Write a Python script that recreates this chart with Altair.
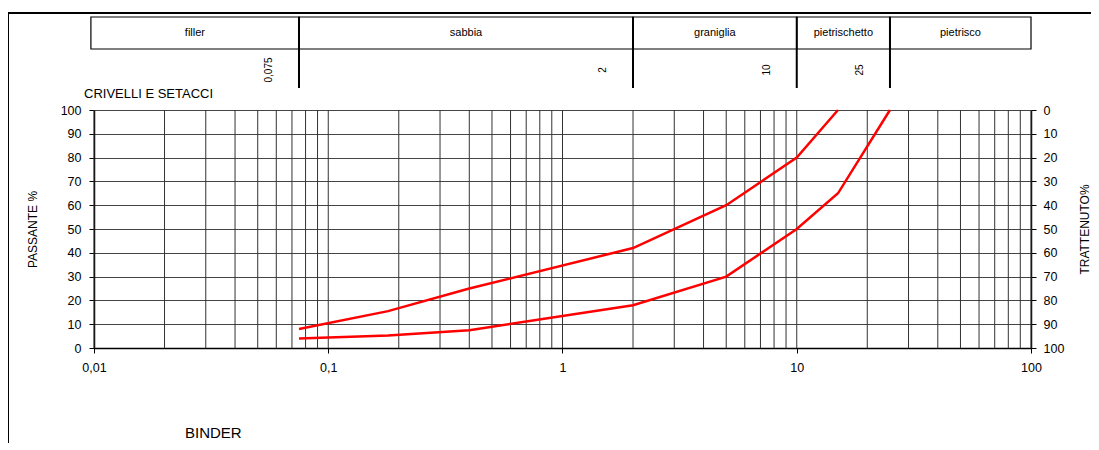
import altair as alt
import pandas as pd

# ---- data ----
size_upper = [0.075, 0.18, 0.4, 2, 5, 10, 15]
pass_upper = [8, 15.5, 25, 42, 60, 80, 100]
size_lower = [0.075, 0.18, 0.4, 2, 5, 10, 15, 25]
pass_lower = [4, 5.3, 7.5, 18, 30, 50, 65, 100]

fractions = ["filler", "sabbia", "graniglia", "pietrischetto", "pietrisco"]
frac_lo = [0.0097, 0.075, 2, 10, 25]
frac_hi = [0.075, 2, 10, 25, 100]
sieves = [0.075, 2, 10, 25]
sieve_labels = ["0,075", "2", "10", "25"]
x_ticks = [0.01, 0.1, 1, 10, 100]
y_ticks = [0, 10, 20, 30, 40, 50, 60, 70, 80, 90, 100]
grid_x = [m * d for d in [0.01, 0.1, 1, 10] for m in range(1, 10)] + [100]

FONT = "Liberation Sans"
W, H = 937, 238

curves = pd.concat([
    pd.DataFrame({"size": size_upper, "pass": pass_upper, "curve": "sup"}),
    pd.DataFrame({"size": size_lower, "pass": pass_lower, "curve": "inf"}),
])
header = pd.DataFrame({"name": fractions, "lo": frac_lo, "hi": frac_hi})
sv = pd.DataFrame({"s": sieves, "lab": sieve_labels})
one = pd.DataFrame({"a": [0.01]})

xs = alt.Scale(type="log", domain=[0.01, 100], nice=False)
ys = alt.Scale(domain=[0, 100], nice=False)

X_AXIS = alt.Axis(values=x_ticks, format="~g",
                  labelExpr="replace(datum.label, '.', ',')",
                  grid=False, tickSize=5, labelPadding=8, labelFlush=False,
                  title=None, domainWidth=1.5, labelFontSize=12.5)


def X(field):
    return alt.X(field, scale=xs, axis=X_AXIS, title=None)


vgrid = alt.Chart(pd.DataFrame({"g": grid_x})).mark_rule(
    color="#333", strokeWidth=1
).encode(x=X("g:Q"))

lines = alt.Chart(curves).mark_line(color="#ff0000", strokeWidth=2.5).encode(
    x=X("size:Q"),
    y=alt.Y("pass:Q", scale=ys,
            axis=alt.Axis(values=y_ticks, grid=True, gridColor="#444",
                          gridOpacity=1, tickSize=5, labelPadding=8,
                          title="PASSANTE %", titlePadding=21,
                          domainWidth=1.5, labelFontSize=12.5)),
    detail="curve:N",
)

right = alt.Chart(pd.DataFrame({"v": [0, 100]})).mark_point(opacity=0).encode(
    y=alt.Y("v:Q", scale=alt.Scale(domain=[0, 100], nice=False, reverse=True),
            axis=alt.Axis(orient="right", values=y_ticks, grid=False,
                          tickSize=5, labelPadding=7, title="TRATTENUTO%",
                          titleAngle=270, titlePadding=28, domainWidth=1.5,
                          labelFontSize=12.5)),
)

boxes = alt.Chart(header).mark_rect(fill="white", stroke="black", strokeWidth=1.2).encode(
    x=X("lo:Q"), x2="hi:Q",
    y=alt.value(-93), y2=alt.value(-61),
)
box_text = alt.Chart(header).transform_calculate(
    mid="sqrt(datum.lo*datum.hi)"
).mark_text(font=FONT, fontSize=11, baseline="middle", align="center").encode(
    x=X("mid:Q"), y=alt.value(-77), text="name:N"
)
dividers = alt.Chart(sv).mark_rule(color="black", strokeWidth=2).encode(
    x=X("s:Q"), y=alt.value(-93), y2=alt.value(-22)
)
sieve_text = alt.Chart(sv).mark_text(
    font=FONT, fontSize=10, angle=270, align="center", baseline="middle", dy=-30
).encode(x=X("s:Q"), y=alt.value(-40), text="lab:N")

top_line = alt.Chart(one).mark_rule(color="black", strokeWidth=2).encode(
    x=alt.value(-86), x2=alt.value(997), y=alt.value(-97)
)
left_line = alt.Chart(one).mark_rule(color="black", strokeWidth=2).encode(
    x=alt.value(-86), y=alt.value(-97), y2=alt.value(333)
)
crivelli = alt.Chart(one).mark_text(
    font=FONT, fontSize=13, align="left", baseline="alphabetic"
).encode(x=alt.value(-10), y=alt.value(-12), text=alt.value("CRIVELLI E SETACCI"))
binder = alt.Chart(one).mark_text(
    font=FONT, fontSize=15, align="left", baseline="middle"
).encode(x=alt.value(91), y=alt.value(323), text=alt.value("BINDER"))

chart = alt.layer(
    vgrid, lines, right, boxes, box_text, dividers, sieve_text,
    top_line, left_line, crivelli, binder
).resolve_scale(y="independent").properties(
    width=W, height=H,
    autosize=alt.AutoSizeParams(type="none"),
    padding={"left": 86, "top": 102, "right": 60, "bottom": 95},
).configure_view(stroke=None).configure_axis(
    labelFont=FONT, titleFont=FONT, labelFontSize=12, titleFontSize=12,
    titleFontWeight="normal", labelColor="black", titleColor="black",
    domainColor="black", tickColor="black",
)

chart.save("out.html", embed_options={"renderer": "svg", "actions": False})
